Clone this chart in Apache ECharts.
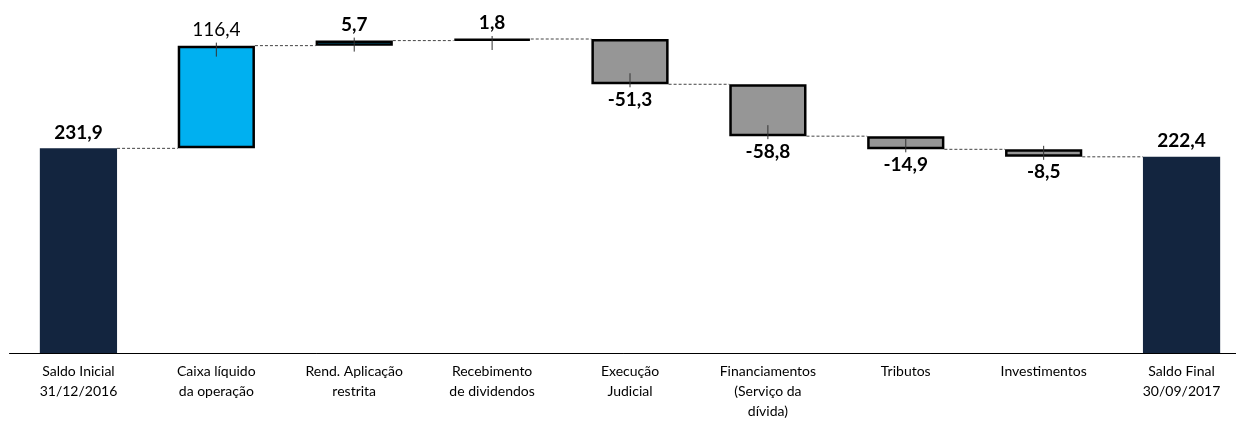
<!DOCTYPE html>
<html>
<head>
<meta charset="utf-8">
<script src="https://cdn.jsdelivr.net/npm/echarts@6/dist/echarts.min.js"></script>
<style>
html,body{margin:0;padding:0;background:#fff;}
#chart{width:1236px;height:427px;}
</style>
</head>
<body>
<div id="chart"></div>
<script>
// categorias e valores (milhões)
var categorias = ['Saldo Inicial\n31/12/2016', 'Caixa líquido\nda operação', 'Rend. Aplicação\nrestrita',
    'Recebimento\nde dividendos', 'Execução\nJudicial', 'Financiamentos\n(Serviço da\ndívida)',
    'Tributos', 'Investimentos', 'Saldo Final\n30/09/2017'];
var valores = [231.9, 116.4, 5.7, 1.8, -51.3, -58.8, -14.9, -8.5, 222.4];
var totais = [0, 8]; // índices das barras de saldo

var cor_saldo = '#13253F', cor_pos = '#00B0F0', cor_neg = '#969696';

var base = [], altura = [], nivel = [], marcas = [];
var acum = 0;
for (var i = 0; i < valores.length; i++) {
    var v = valores[i];
    if (totais.indexOf(i) >= 0) {
        base.push(0);
        altura.push({value: v, itemStyle: {color: cor_saldo, borderWidth: 0},
            label: {position: 'top'}});
        acum = v;
    } else {
        var fim = acum + v;
        base.push(Math.min(acum, fim));
        altura.push({value: Math.abs(v), real: v,
            itemStyle: {color: v > 0 ? cor_pos : cor_neg, borderColor: '#000', borderWidth: 2.5},
            label: {position: v > 0 ? 'top' : 'bottom', fontWeight: i === 1 ? 'normal' : 'bold'}});
        // marca pequena no centro da barra, do lado do rótulo
        marcas.push([i, fim, v > 0 ? 1 : -1]);
        acum = fim;
    }
    if (i < valores.length - 1) nivel.push([i, acum]);
}

function fmt(n) {
    return n.toFixed(1).replace('.', ',');
}

var dom = document.getElementById('chart');
var myChart = echarts.init(dom);

var option = {
    animation: false,
    grid: {left: 9.5, width: 1241, top: 0, bottom: 74, outerBoundsMode: 'none', containLabel: false},
    xAxis: {
        type: 'category',
        data: categorias,
        axisTick: {show: false},
        axisLine: {lineStyle: {color: '#000', width: 1}},
        axisLabel: {
            interval: 0, margin: 8, color: '#000',
            fontFamily: 'Lato', fontSize: 14, lineHeight: 20
        }
    },
    yAxis: {
        type: 'value', min: 0, max: 400,
        show: false, splitLine: {show: false}
    },
    series: [
        {
            type: 'bar', stack: 'w', barWidth: '56%',
            itemStyle: {color: 'transparent'},
            data: base, silent: true
        },
        {
            type: 'bar', stack: 'w', barWidth: '56%',
            data: altura,
            label: {
                show: true, distance: 6, color: '#000',
                fontFamily: 'Lato', fontSize: 19, fontWeight: 'bold',
                formatter: function (p) {
                    var r = p.data.real !== undefined ? p.data.real : p.data.value;
                    return fmt(r);
                }
            }
        },
        {
            // linhas tracejadas de ligação
            type: 'custom', data: nivel, z: 1,
            renderItem: function (params, api) {
                var p = api.coord([api.value(0), api.value(1)]);
                var band = api.size([1, 0])[0];
                var meia = band * 0.28;
                return {
                    type: 'line',
                    shape: {x1: p[0] + meia, y1: p[1], x2: p[0] + band - meia, y2: p[1]},
                    style: {stroke: '#444', lineWidth: 1, lineDash: [3, 2]}
                };
            }
        },
        {
            // marcas verticais no centro das barras
            type: 'custom', data: marcas, z: 5,
            renderItem: function (params, api) {
                var p = api.coord([api.value(0), api.value(1)]);
                var d = api.value(2);
                return {
                    type: 'line',
                    shape: {x1: p[0], y1: p[1] - d * 3, x2: p[0], y2: p[1] + d * 11},
                    style: {stroke: '#333', lineWidth: 1}
                };
            }
        }
    ]
};

myChart.setOption(option, true);
</script>
</body>
</html>
